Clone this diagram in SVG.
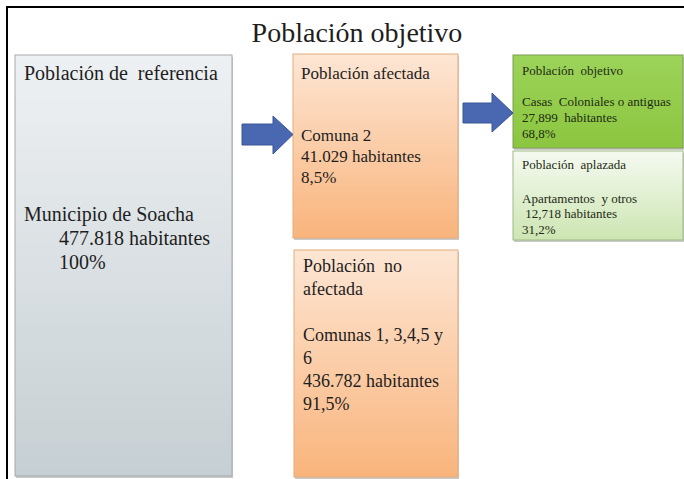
<svg xmlns="http://www.w3.org/2000/svg" width="684" height="479" viewBox="0 0 684 479">
<defs>
<linearGradient id="gGray" x1="0" y1="0" x2="0" y2="1"><stop offset="0" stop-color="#eef1f3"/><stop offset="1" stop-color="#c6cfd3"/></linearGradient>
<linearGradient id="gOr" x1="0" y1="0" x2="0" y2="1"><stop offset="0" stop-color="#fde6d4"/><stop offset="1" stop-color="#f9b47c"/></linearGradient>
<linearGradient id="gGreen" x1="0" y1="0" x2="0" y2="1"><stop offset="0" stop-color="#9cd35a"/><stop offset="1" stop-color="#8cc63f"/></linearGradient>
<linearGradient id="gLg" x1="0" y1="0" x2="0" y2="1"><stop offset="0" stop-color="#f5faf1"/><stop offset="1" stop-color="#cde5b2"/></linearGradient>
</defs>
<style>
text{font-family:"Liberation Serif","Times New Roman",serif;fill:#1e1e1e}
.big{font-size:20px}
.mid{font-size:17px}
.med{font-size:18px}
.sm{font-size:13px;fill:#1d2a14}
.shadow{fill:#8a8a8a;opacity:0.45}
.arrow{fill:#4a68b2;stroke:#3a5696;stroke-width:1}
</style>
<rect width="684" height="479" fill="#ffffff"/>
<path d="M7,479 V7 H684" fill="none" stroke="#000" stroke-width="2"/>
<text x="357" y="42" font-size="28" text-anchor="middle">Población objetivo</text>

<g id="referencia">
<rect class="shadow" x="16" y="57" width="217" height="421"/>
<rect x="15" y="55" width="217" height="421" fill="url(#gGray)" stroke="#a6a9ab" stroke-width="1"/>
<text class="big" x="24" y="80" xml:space="preserve">Población de  referencia</text>
<text class="big" x="24" y="221">Municipio de Soacha</text>
<text class="big" x="59" y="245">477.818 habitantes</text>
<text class="big" x="59" y="269">100%</text>
</g>

<g id="afectada">
<rect class="shadow" x="294" y="56" width="165" height="184"/>
<rect x="293" y="54" width="165" height="184" fill="url(#gOr)" stroke="#e3ad7d" stroke-width="1"/>
<text class="mid" x="301" y="79">Población afectada</text>
<text class="mid" x="301" y="141">Comuna 2</text>
<text class="mid" x="301" y="162">41.029 habitantes</text>
<text class="mid" x="301" y="183">8,5%</text>
</g>

<g id="no-afectada">
<rect class="shadow" x="295" y="252" width="164" height="227"/>
<rect x="294" y="250" width="164" height="227" fill="url(#gOr)" stroke="#e3ad7d" stroke-width="1"/>
<text class="med" x="303" y="272" xml:space="preserve">Población  no</text>
<text class="med" x="303" y="295">afectada</text>
<text class="med" x="303" y="341">Comunas 1, 3,4,5 y</text>
<text class="med" x="303" y="364">6</text>
<text class="med" x="303" y="387">436.782 habitantes</text>
<text class="med" x="303" y="410">91,5%</text>
</g>

<g id="objetivo">
<rect class="shadow" x="514" y="57" width="170" height="93"/>
<rect x="513" y="55" width="170" height="93" fill="url(#gGreen)" stroke="#7c9d55" stroke-width="1"/>
<text class="sm" x="522" y="75" xml:space="preserve">Población  objetivo</text>
<text class="sm" x="522" y="106" xml:space="preserve">Casas  Coloniales o antiguas</text>
<text class="sm" x="522" y="122" xml:space="preserve">27,899  habitantes</text>
<text class="sm" x="522" y="138">68,8%</text>
</g>

<g id="aplazada">
<rect class="shadow" x="514" y="153" width="170" height="89"/>
<rect x="513" y="151" width="170" height="89" fill="url(#gLg)" stroke="#9fb985" stroke-width="1"/>
<text class="sm" x="522" y="169" xml:space="preserve">Población  aplazada</text>
<text class="sm" x="522" y="203" xml:space="preserve">Apartamentos  y otros</text>
<text class="sm" x="522" y="218" xml:space="preserve"> 12,718 habitantes</text>
<text class="sm" x="522" y="234">31,2%</text>
</g>

<g id="connectors">
<polygon class="arrow" points="242,124 273,124 273,116 293,134.5 273,154 273,145 242,145"/>
<polygon class="arrow" points="463,103 492,103 492,93 513,113 492,132 492,123 463,123"/>
</g>
</svg>
